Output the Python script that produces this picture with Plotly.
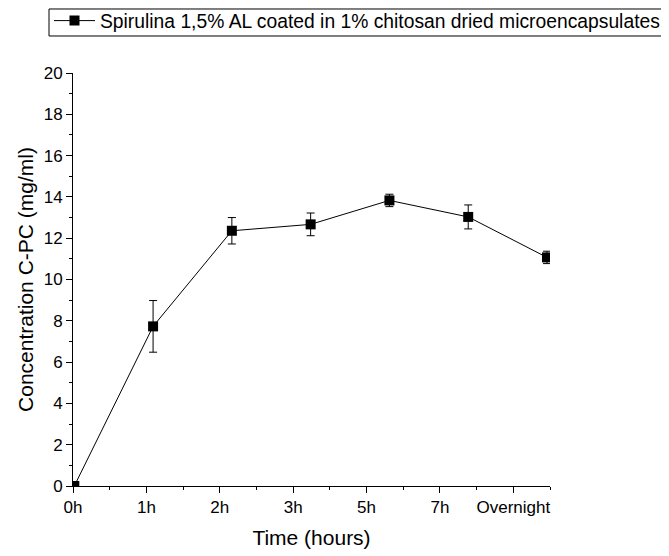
import plotly.graph_objects as go

time_labels = ["0h", "1h", "2h", "3h", "5h", "7h", "Overnight"]
concentration = [0.0, 7.73, 12.36, 12.67, 13.83, 13.03, 11.07]
error = [0.0, 1.25, 0.64, 0.55, 0.30, 0.58, 0.30]
series_name = "Spirulina 1,5% AL coated in 1% chitosan dried microencapsulates"

FONT = "Liberation Sans, Arial, sans-serif"
idx = list(range(len(time_labels)))

# tick labels are spaced slightly tighter than the data points (as in the original)
x_start = -0.0165
tick_step = 0.9315
n_steps = 6.5
tick_positions = [x_start + k * tick_step for k in idx]
minor_positions = [x_start + (k + 0.5) * tick_step for k in idx]
x_end = x_start + n_steps * tick_step

fig = go.Figure()
fig.add_trace(go.Scatter(
    x=idx, y=concentration,
    mode="lines+markers",
    name=series_name,
    line=dict(color="black", width=1),
    marker=dict(symbol="square", size=10, color="black"),
    error_y=dict(type="data", array=error, visible=True, color="black", thickness=1, width=4),
    showlegend=True,
))

fig.update_layout(
    width=661, height=548,
    margin=dict(l=65, r=119, t=65, b=70, autoexpand=False),
    paper_bgcolor="white", plot_bgcolor="white",
    font=dict(family=FONT, color="black", size=17),
    showlegend=True,
    legend=dict(
        x=-0.0503, y=1.173,
        xanchor="left", yanchor="top",
        borderwidth=0, bgcolor="rgba(0,0,0,0)",
        font=dict(size=19.3, family=FONT),
        itemwidth=41,
    ),
    shapes=[dict(
        type="rect", xref="paper", yref="paper",
        x0=-0.0503, x1=1.241, y0=1.0896, y1=1.155,
        line=dict(color="black", width=1), fillcolor="rgba(0,0,0,0)",
        layer="above",
    )],
    xaxis=dict(
        range=[x_start, x_end], tickmode="array", tickvals=tick_positions, ticktext=time_labels,
        showline=True, linecolor="black", linewidth=1,
        ticks="outside", ticklen=6, tickwidth=1, tickcolor="black",
        showgrid=False, zeroline=False,
        minor=dict(ticks="outside", ticklen=3, tickwidth=1, tickcolor="black",
                   tickvals=minor_positions),
        title=dict(text="Time (hours)", font=dict(size=21), standoff=13),
        tickfont=dict(size=17),
    ),
    yaxis=dict(
        range=[0, 20], dtick=2, tick0=0,
        showline=True, linecolor="black", linewidth=1,
        ticks="outside", ticklen=6, tickwidth=1, tickcolor="black",
        showgrid=False, zeroline=False,
        minor=dict(ticks="outside", ticklen=3, tickwidth=1, tickcolor="black", dtick=1),
        title=dict(text="Concentration C-PC (mg/ml)", font=dict(size=21), standoff=4),
        tickfont=dict(size=17),
    ),
)

fig.write_html("out.html")
